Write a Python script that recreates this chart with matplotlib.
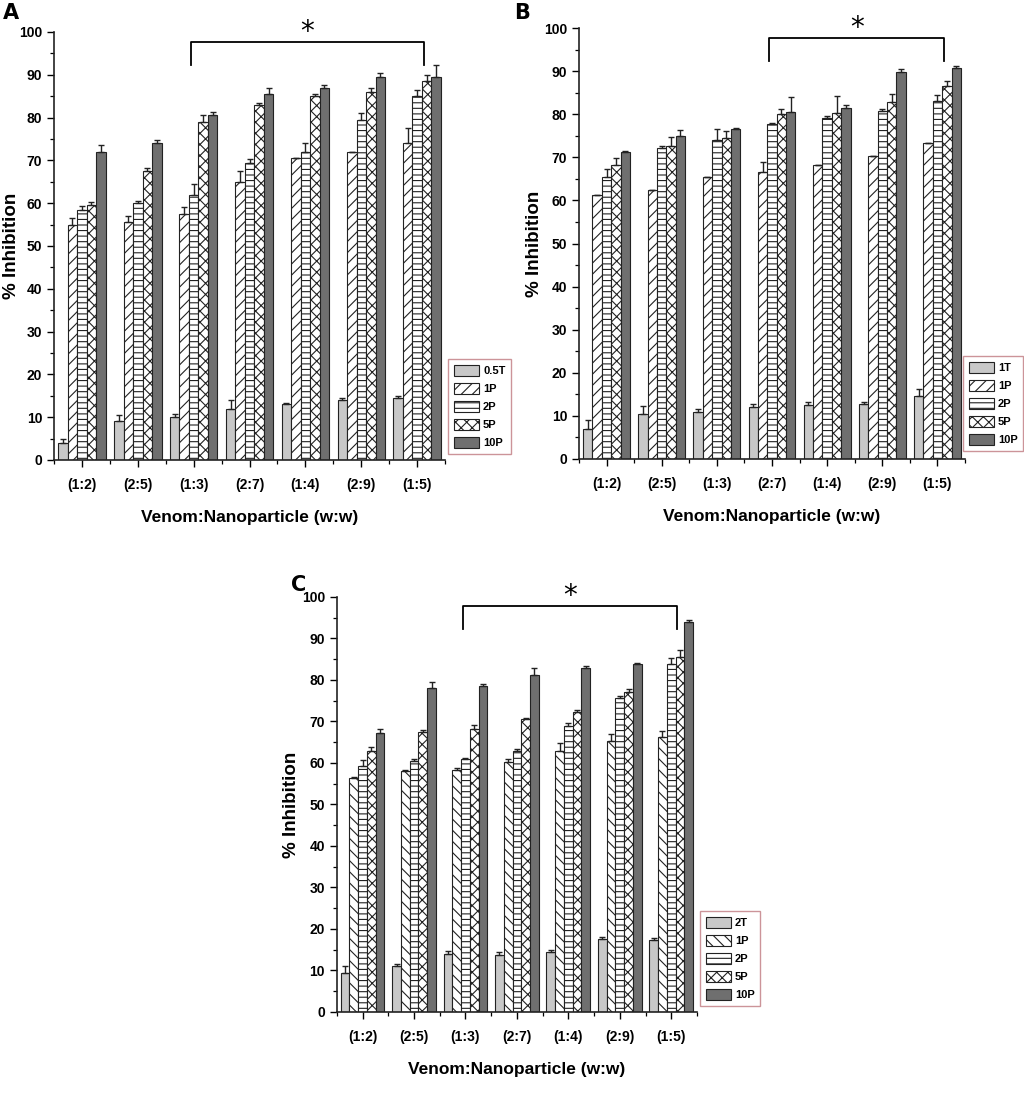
"""Venom:nanoparticle inhibition bar charts (panels A, B, C)."""

import matplotlib

matplotlib.use("Agg")

import matplotlib.pyplot as plt
import numpy as np
from matplotlib.ticker import MultipleLocator

plt.rcParams["font.family"] = ["Liberation Sans", "DejaVu Sans"]
plt.rcParams["font.weight"] = "bold"
plt.rcParams["hatch.linewidth"] = 0.8

ratios = ["(1:2)", "(2:5)", "(1:3)", "(2:7)", "(1:4)", "(2:9)", "(1:5)"]
series_p = ["1P", "2P", "5P", "10P"]

# panel A
a_labels = ["0.5T"] + series_p
a_means = [
    [4.0, 9.0, 10.0, 12.0, 13.0, 14.0, 14.5],
    [55.0, 55.5, 57.5, 65.0, 70.5, 72.0, 74.0],
    [58.5, 60.0, 62.0, 69.5, 72.0, 79.5, 85.0],
    [59.5, 67.5, 79.0, 83.0, 85.0, 86.0, 88.5],
    [72.0, 74.0, 80.5, 85.5, 87.0, 89.5, 89.5],
]
a_errs = [
    [1.0, 1.5, 0.8, 2.0, 0.2, 0.5, 0.5],
    [1.5, 1.5, 1.5, 2.5, 0.0, 0.0, 3.5],
    [0.8, 0.6, 2.5, 0.8, 2.0, 1.5, 1.5],
    [0.8, 0.8, 1.5, 0.3, 0.5, 0.8, 1.5],
    [1.5, 0.8, 0.8, 1.5, 0.5, 0.8, 2.8],
]

# panel B
b_labels = ["1T"] + series_p
b_means = [
    [7.0, 10.5, 11.0, 12.0, 12.5, 12.8, 14.7],
    [61.3, 62.5, 65.5, 66.5, 68.3, 70.3, 73.3],
    [65.5, 72.2, 74.0, 77.8, 79.2, 80.8, 83.0],
    [68.3, 72.7, 74.5, 80.0, 80.3, 82.8, 86.5],
    [71.2, 75.0, 76.6, 80.6, 81.4, 89.8, 90.7],
]
b_errs = [
    [2.0, 1.8, 0.6, 0.8, 0.8, 0.5, 1.5],
    [0.0, 0.0, 0.0, 2.5, 0.0, 0.0, 0.0],
    [1.8, 0.5, 2.5, 0.2, 0.5, 0.5, 1.5],
    [1.5, 2.0, 1.6, 1.3, 4.0, 1.8, 1.2],
    [0.2, 1.4, 0.2, 3.3, 0.8, 0.8, 0.5],
]

# panel C
c_labels = ["2T"] + series_p
c_means = [
    [9.5, 11.0, 14.0, 13.8, 14.5, 17.5, 17.3],
    [56.3, 58.0, 58.3, 60.3, 62.8, 65.2, 66.3],
    [59.2, 60.5, 61.0, 62.8, 69.0, 75.7, 83.8],
    [62.8, 67.5, 68.3, 70.6, 72.3, 77.0, 85.5],
    [67.3, 78.0, 78.6, 81.2, 82.8, 83.9, 94.0],
]
c_errs = [
    [1.5, 0.5, 0.8, 0.6, 0.5, 0.5, 0.5],
    [0.3, 0.4, 0.4, 0.7, 2.0, 1.8, 1.5],
    [1.6, 0.5, 0.2, 0.5, 0.7, 0.4, 1.5],
    [1.0, 0.4, 0.8, 0.2, 0.4, 0.8, 1.8],
    [1.0, 1.4, 0.5, 1.6, 0.5, 0.2, 0.4],
]

# significance bracket spans (first group, last group)
a_bracket = (2, 6)
b_bracket = (3, 6)
c_bracket = (2, 6)

FACE = ["#c8c8c8", "white", "white", "white", "#6f6f6f"]


def draw_panel(fig, rect, letter, letter_xy, labels, means, errs, bracket,
               diag, legend_xy, ylab_x):
    ax = fig.add_axes(rect)
    x = np.arange(len(ratios))
    width = 0.17
    hatches = ["", diag, "---", "xxx", ""]
    handles = []
    for i, (lab, m, e) in enumerate(zip(labels, means, errs)):
        pos = x + (i - 2) * width
        h = ax.bar(pos, m, width, color=FACE[i], edgecolor="#222222",
                   linewidth=0.8, hatch=hatches[i], label=lab, zorder=2)
        handles.append(h)
        ax.errorbar(pos, m, yerr=[np.zeros(len(e)), e], fmt="none",
                    ecolor="#222222", elinewidth=1.0, capsize=2.5,
                    capthick=1.0, zorder=3)

    ax.set_xlim(-0.5, len(ratios) - 0.5)
    ax.set_ylim(0, 100)
    ax.set_xticks(x)
    ax.set_xticklabels(ratios)
    ax.xaxis.set_minor_locator(MultipleLocator(0.5))
    ax.yaxis.set_major_locator(MultipleLocator(10))
    ax.yaxis.set_minor_locator(MultipleLocator(5))
    ax.tick_params(axis="both", which="major", direction="out", length=5,
                   width=1.0, labelsize=10)
    ax.tick_params(axis="both", which="minor", direction="out", length=3,
                   width=0.9)
    ax.tick_params(axis="x", pad=8)
    for s in ("top", "right"):
        ax.spines[s].set_visible(False)
    for s in ("left", "bottom"):
        ax.spines[s].set_linewidth(1.2)
        ax.spines[s].set_color("#222222")

    ax.set_ylabel("% Inhibition", fontsize=13.5, fontweight="bold")
    ax.yaxis.set_label_coords(ylab_x, 0.5)
    ax.set_xlabel("Venom:Nanoparticle (w:w)", fontsize=12.5,
                  fontweight="bold", labelpad=13)

    # significance bracket
    x0, x1 = bracket[0] - 0.05, bracket[1] + 0.12
    y_top, y_end = 97.7, 92.3
    ax.plot([x0, x0, x1, x1], [y_end, y_top, y_top, y_end], color="black",
            linewidth=1.3, solid_joinstyle="round", clip_on=False, zorder=4)
    ax.text((x0 + x1) / 2, 96.8, "*", ha="center", va="bottom", fontsize=20,
            fontweight="normal", family="DejaVu Sans", clip_on=False)

    leg = ax.legend(handles=handles, loc="lower left",
                    bbox_to_anchor=legend_xy, bbox_transform=fig.transFigure,
                    borderaxespad=0, fontsize=8, handlelength=2.3,
                    handleheight=1.2, labelspacing=0.6, handletextpad=0.35,
                    borderpad=0.5, frameon=True, fancybox=False)
    leg.get_frame().set_edgecolor("#c07a80")
    leg.get_frame().set_linewidth(1.0)
    for t in leg.get_texts():
        t.set_fontweight("bold")

    fig.text(letter_xy[0], letter_xy[1], letter, fontsize=15,
             fontweight="bold", family="DejaVu Sans", ha="left", va="top")
    return ax


fig = plt.figure(figsize=(10.24, 11.02), dpi=100)

draw_panel(fig, [0.0527, 0.5826, 0.382, 0.3884], "A", (0.003, 0.997),
           a_labels, a_means, a_errs, a_bracket, "///", (0.4375, 0.588),
           -0.088)
draw_panel(fig, [0.5654, 0.5835, 0.377, 0.391], "B", (0.502, 0.997),
           b_labels, b_means, b_errs, b_bracket, "///", (0.9405, 0.5907),
           -0.093)
draw_panel(fig, [0.329, 0.0817, 0.3516, 0.3766], "C", (0.284, 0.478),
           c_labels, c_means, c_errs, c_bracket, "\\\\\\", (0.6836, 0.0871),
           -0.103)

fig.savefig("out.png", dpi=100)
plt.close(fig)
